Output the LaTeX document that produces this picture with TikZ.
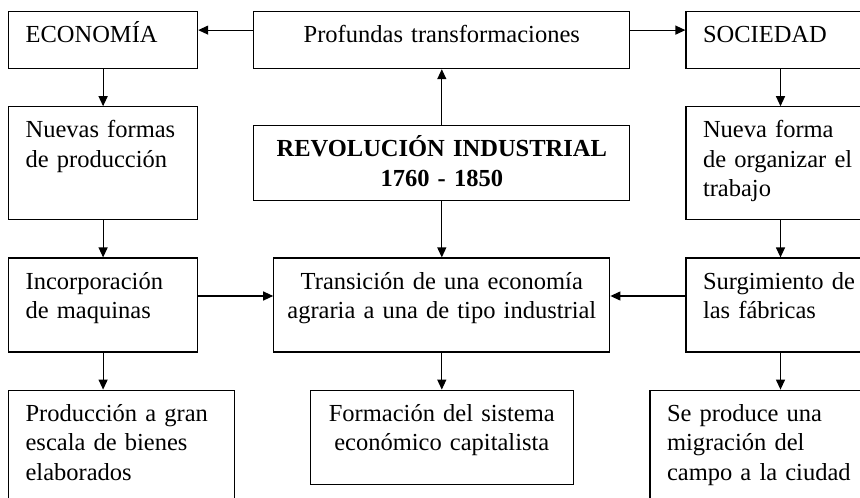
\documentclass[tikz,border=0pt]{standalone}
\usepackage{fontspec}
\setmainfont{Liberation Serif}
\usetikzlibrary{positioning,arrows.meta}

\begin{document}
\begin{tikzpicture}[
    x=1pt, y=-1pt,
    node distance=37pt and 55pt,
    box/.style={draw, line width=1.2pt, inner ysep=0pt, text height=31pt, font=\fontsize{24.5}{29.5}\selectfont},
    sidebox/.style={box, inner xsep=17pt, text width=155pt, align=left},
    midbox/.style={box, inner xsep=8pt, align=center},
    arrow/.style={-{Triangle[length=10pt,width=9pt]}, line width=1.2pt}
]

\useasboundingbox (0,0) rectangle (860,498);
\clip (0,0) rectangle (860,498);

\node[sidebox, anchor=north west, text depth=26pt] (econ) at (8,11) {ECONOMÍA};
\node[midbox, right=55pt of econ, text width=360pt, text depth=26pt] (prof) {Profundas transformaciones};
\node[sidebox, right=55pt of prof, text depth=26pt] (soc) {SOCIEDAD};
\node[sidebox, below=37pt of econ, text depth=82pt] (nuevas) {Nuevas formas\\de producción};
\node[midbox, below=56pt of prof, text width=360pt, text depth=44pt, font=\fontsize{24.5}{29.5}\selectfont\bfseries] (revo) {REVOLUCIÓN INDUSTRIAL\\1760 - 1850};
\node[sidebox, below=37pt of soc, text depth=82pt] (organiza) {Nueva forma\\de organizar el\\trabajo};
\node[sidebox, below=37pt of nuevas, text depth=63pt] (incorp) {Incorporación\\de maquinas};
\node[midbox, below=56pt of revo, text width=320pt, text depth=63pt] (trans) {Transición de una economía\\agraria a una de tipo industrial};
\node[sidebox, below=37pt of organiza, text depth=63pt] (surg) {Surgimiento de\\las fábricas};
\node[sidebox, below=37pt of incorp.south west, anchor=north west, text width=192pt, text depth=103pt] (prod) {Producción a gran\\escala de bienes\\elaborados};
\node[midbox, below=37pt of trans, text width=247pt, text depth=63pt] (form) {Formación del sistema\\económico capitalista};
\node[sidebox, below=37pt of surg.south west, anchor=north west, xshift=-36pt, text width=200pt, text depth=103pt] (migra) {Se produce una\\migración del\\campo a la ciudad};

\draw[arrow] ([yshift=10pt]prof.west) -- ([yshift=10pt]prof.west -| econ.east);
\draw[arrow] ([yshift=10pt]prof.east) -- ([yshift=10pt]prof.east -| soc.west);
\draw[arrow] (revo) -- (prof);
\draw[arrow] (revo) -- (trans);
\draw[arrow] (econ) -- (nuevas);
\draw[arrow] (nuevas) -- (incorp);
\draw[arrow] (incorp.south) -- (incorp.south |- prod.north);
\draw[arrow] (soc) -- (organiza);
\draw[arrow] (organiza) -- (surg);
\draw[arrow] (surg.south) -- (surg.south |- migra.north);
\draw[arrow] ([yshift=9pt]incorp.east) -- ([yshift=9pt]incorp.east -| trans.west);
\draw[arrow] ([yshift=9pt]surg.west) -- ([yshift=9pt]surg.west -| trans.east);
\draw[arrow] (trans) -- (form);

\end{tikzpicture}
\end{document}
